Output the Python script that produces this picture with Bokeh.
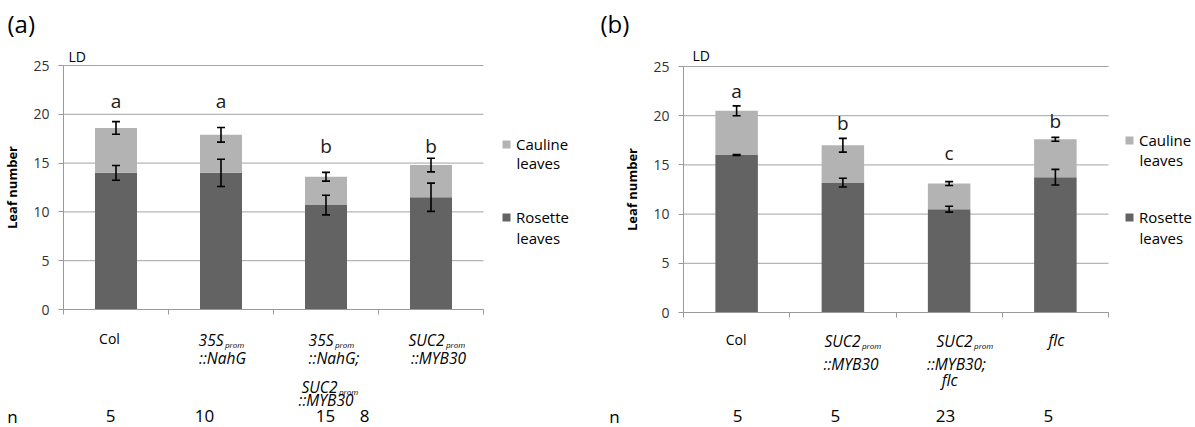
from bokeh.plotting import figure
from bokeh.models import (Range1d, FixedTicker, Whisker, TeeHead, ColumnDataSource,
                          Label, Legend, LegendItem, CustomJSTickFormatter)
from bokeh.layouts import row
from bokeh.embed import file_html
from bokeh.resources import INLINE
from bokeh.core.properties import value

# ---------------- data ----------------
genotypes_a = ["Col", "35Sprom::NahG", "35Sprom::NahG; SUC2prom::MYB30", "SUC2prom::MYB30"]
rosette_a = [14.0, 14.0, 10.7, 11.5]
rosette_err_a = [0.75, 1.4, 1.0, 1.45]
cauline_a = [4.6, 3.9, 2.9, 3.3]
cauline_err_a = [0.65, 0.75, 0.45, 0.7]
letters_a = ["a", "a", "b", "b"]
n_a = [5, 10, 15, 8]
label_lines_a = [
    [("Col", "")],
    [("35S", "prom"), ("::NahG", "")],
    [("35S", "prom"), ("::NahG;", ""), ("SUC2", "prom"), ("::MYB30", "")],
    [("SUC2", "prom"), ("::MYB30", "")],
]

genotypes_b = ["Col", "SUC2prom::MYB30", "SUC2prom::MYB30; flc", "flc"]
rosette_b = [16.0, 13.2, 10.5, 13.75]
rosette_err_b = [0.05, 0.45, 0.3, 0.8]
cauline_b = [4.5, 3.8, 2.6, 3.85]
cauline_err_b = [0.5, 0.7, 0.2, 0.2]
letters_b = ["a", "b", "c", "b"]
n_b = [5, 5, 23, 5]
label_lines_b = [
    [("Col", "")],
    [("SUC2", "prom"), ("::MYB30", "")],
    [("SUC2", "prom"), ("::MYB30;", ""), ("flc", "")],
    [("flc", "")],
]

y_ticks = [0, 5, 10, 15, 20, 25]
y_label = "Leaf number"
legend_first = ["Cauline", "Rosette"]
legend_second = ["leaves", "leaves"]

# ---------------- layout / style ----------------
FONT = "Open Sans"
ROSETTE_C = "#636363"
CAULINE_C = "#b3b3b3"
GRID_C = "#a3a3a3"
AXIS_C = "#9a9a9a"
H = 427

# per-panel layout (pixels, relative to each panel's own left/top corner)
layout_a = dict(tag="(a)", width=598, x0=63, ppx=105.0, y0=309, ppu=9.76,
                letter_y=[21.4, 21.4, 16.8, 16.8],
                pos=[[(-6.5, 338)], [(2.5, 339), (1.5, 357)],
                     [(7.5, 339), (8, 357), (11.5, 386), (0, 399)],
                     [(13.5, 339), (7.5, 357)]],
                n_dx=[-5.5, -16.5, -0.5, -66.5], n_mid=415, n_letter_dx=-51,
                tag_dx=-56, tag_y=23, ld_dx=5, ld_y=56,
                legend_loc=(501, 200), legend_spacing=53, leaves_px=516,
                leaves_y=[162, 237])
layout_b = dict(tag="(b)", width=597, x0=85, ppx=106.25, y0=312, ppu=9.84,
                letter_y=[22.56, 19.3, 16.16, 19.5],
                pos=[[(-0.6, 339)], [(17.6, 340), (8.1, 363)],
                     [(23.4, 340), (7.4, 363), (0.4, 379)],
                     [(1.1, 339)]],
                n_dx=[0.9, -7.4, -3.6, -6.9], n_mid=415, n_letter_dx=-69,
                tag_dx=-83, tag_y=23, ld_dx=9, ld_y=55,
                legend_loc=(526, 200), legend_spacing=57, leaves_px=541,
                leaves_y=[159, 237])


def make_panel(L, rosette, r_err, cauline, c_err, letters, n_vals, label_lines):
    W = L["width"]
    ppx, ppu, x0, y0 = L["ppx"], L["ppu"], L["x0"], L["y0"]

    def ydata(py):
        return (y0 - py) / ppu

    def xdata(px):
        return (px - x0) / ppx

    p = figure(width=W, height=H, output_backend="svg", toolbar_location=None,
               x_range=Range1d(xdata(0), xdata(W)), y_range=Range1d(ydata(H), ydata(0)),
               min_border=0, min_border_left=0, min_border_right=0,
               min_border_top=0, min_border_bottom=0)
    p.outline_line_color = None
    p.background_fill_color = "white"
    p.border_fill_color = "white"

    xs = [i + 0.5 for i in range(len(rosette))]
    total = [r + c for r, c in zip(rosette, cauline)]
    src = ColumnDataSource(dict(
        x=xs, rosette=rosette, total=total,
        r_up=[r + e for r, e in zip(rosette, r_err)],
        r_lo=[r - e for r, e in zip(rosette, r_err)],
        c_up=[t + e for t, e in zip(total, c_err)],
        c_lo=[t - e for t, e in zip(total, c_err)],
        letters=letters, letter_y=L["letter_y"]))

    # axes fixed at zero (inside the frame)
    p.yaxis.fixed_location = 0
    p.yaxis.bounds = (0, 25)
    p.yaxis.ticker = FixedTicker(ticks=y_ticks)
    p.yaxis.axis_line_color = AXIS_C
    p.yaxis.major_tick_line_color = AXIS_C
    p.yaxis.major_tick_out = 5
    p.yaxis.major_tick_in = 0
    p.yaxis.minor_tick_line_color = None
    p.yaxis.major_label_text_font = FONT
    p.yaxis.major_label_text_font_size = "14px"
    p.yaxis.major_label_text_color = "#333333"
    p.yaxis.major_label_standoff = 9
    p.yaxis.axis_label = y_label
    p.yaxis.axis_label_text_font = FONT
    p.yaxis.axis_label_text_font_size = "13px"
    p.yaxis.axis_label_text_font_style = "bold"
    p.yaxis.axis_label_text_color = "black"
    p.yaxis.axis_label_standoff = 9

    p.xaxis.fixed_location = 0
    p.xaxis.bounds = (0, 4)
    p.xaxis.ticker = FixedTicker(ticks=[0, 1, 2, 3, 4])
    p.xaxis.formatter = CustomJSTickFormatter(code="return ''")
    p.xaxis.major_label_text_font_size = "0px"
    p.xaxis.axis_line_color = AXIS_C
    p.xaxis.major_tick_line_color = AXIS_C
    p.xaxis.major_tick_out = 5
    p.xaxis.major_tick_in = 0
    p.xaxis.minor_tick_line_color = None

    # horizontal gridlines from the tick values, spanning the categories only
    p.xgrid.visible = False
    p.ygrid.visible = False
    p.segment(x0=[0] * len(y_ticks), x1=[4] * len(y_ticks), y0=y_ticks, y1=y_ticks,
              line_color=GRID_C, line_width=1, level="underlay")

    r_r = p.vbar(x="x", width=0.4, bottom=0, top="rosette", source=src,
                 fill_color=ROSETTE_C, line_color=None)
    r_c = p.vbar(x="x", width=0.4, bottom="rosette", top="total", source=src,
                 fill_color=CAULINE_C, line_color=None)

    for up, lo in (("r_up", "r_lo"), ("c_up", "c_lo")):
        w = Whisker(base="x", upper=up, lower=lo, source=src, dimension="height",
                    line_color="black", line_width=1.6, level="overlay",
                    upper_head=TeeHead(size=8, line_color="black", line_width=1.6),
                    lower_head=TeeHead(size=8, line_color="black", line_width=1.6))
        p.add_layout(w)

    p.text(x="x", y="letter_y", text="letters", source=src,
           text_font=value(FONT), text_font_size="19px", text_align="center",
           text_baseline="middle", text_color="#1a1a1a")

    # category labels (with subscripts)
    for i, (lines, poses) in enumerate(zip(label_lines, L["pos"])):
        italic = "normal" if lines[0][0] == "Col" else "italic"
        size = "14px" if italic == "normal" else "15.5px"
        for (main, sub), (dx, mid) in zip(lines, poses):
            if sub:
                p.add_layout(Label(x=xs[i], y=ydata(mid), x_offset=dx, text=main,
                                   text_align="right", text_baseline="middle",
                                   text_font=FONT, text_font_size=size,
                                   text_font_style=italic, text_color="black"))
                p.add_layout(Label(x=xs[i], y=ydata(mid + 5), x_offset=dx + 1.5, text=sub,
                                   text_align="left", text_baseline="middle",
                                   text_font=FONT, text_font_size="8px",
                                   text_font_style=italic, text_color="black"))
            else:
                p.add_layout(Label(x=xs[i], y=ydata(mid), x_offset=dx, text=main,
                                   text_align="center", text_baseline="middle",
                                   text_font=FONT, text_font_size=size,
                                   text_font_style=italic, text_color="black"))

    # n row
    p.add_layout(Label(x=0, y=ydata(L["n_mid"] + 1), x_offset=L["n_letter_dx"], text="n",
                       text_align="center", text_baseline="middle",
                       text_font=FONT, text_font_size="17px", text_color="black"))
    for i, nv in enumerate(n_vals):
        p.add_layout(Label(x=xs[i], y=ydata(L["n_mid"]), x_offset=L["n_dx"][i], text=str(nv),
                           text_align="center", text_baseline="middle",
                           text_font=FONT, text_font_size="17px", text_color="black"))

    # panel tag and LD
    p.add_layout(Label(x=0, y=ydata(L["tag_y"]), x_offset=L["tag_dx"], text=L["tag"],
                       text_align="left", text_baseline="middle",
                       text_font=FONT, text_font_size="24px", text_color="black"))
    p.add_layout(Label(x=0, y=ydata(L["ld_y"]), x_offset=L["ld_dx"], text="LD",
                       text_align="left", text_baseline="middle",
                       text_font=FONT, text_font_size="14px", text_color="black"))

    # legend
    legend = Legend(items=[LegendItem(label=legend_first[0], renderers=[r_c]),
                           LegendItem(label=legend_first[1], renderers=[r_r])],
                    location=L["legend_loc"], orientation="vertical",
                    glyph_width=10, glyph_height=10, label_height=20,
                    label_standoff=5, spacing=L["legend_spacing"], padding=0, margin=0,
                    border_line_color=None, background_fill_alpha=0,
                    label_text_font=FONT, label_text_font_size="15px",
                    label_text_color="black")
    p.add_layout(legend)
    for k, ly in enumerate(L["leaves_y"]):
        p.add_layout(Label(x=xdata(L["leaves_px"]), y=ydata(ly), text=legend_second[k],
                           text_align="left", text_baseline="middle",
                           text_font=FONT, text_font_size="15px", text_color="black"))
    return p


pa = make_panel(layout_a, rosette_a, rosette_err_a, cauline_a, cauline_err_a,
                letters_a, n_a, label_lines_a)
pb = make_panel(layout_b, rosette_b, rosette_err_b, cauline_b, cauline_err_b,
                letters_b, n_b, label_lines_b)

page = row(pa, pb)
open("out.html", "w").write(file_html(page, INLINE))
